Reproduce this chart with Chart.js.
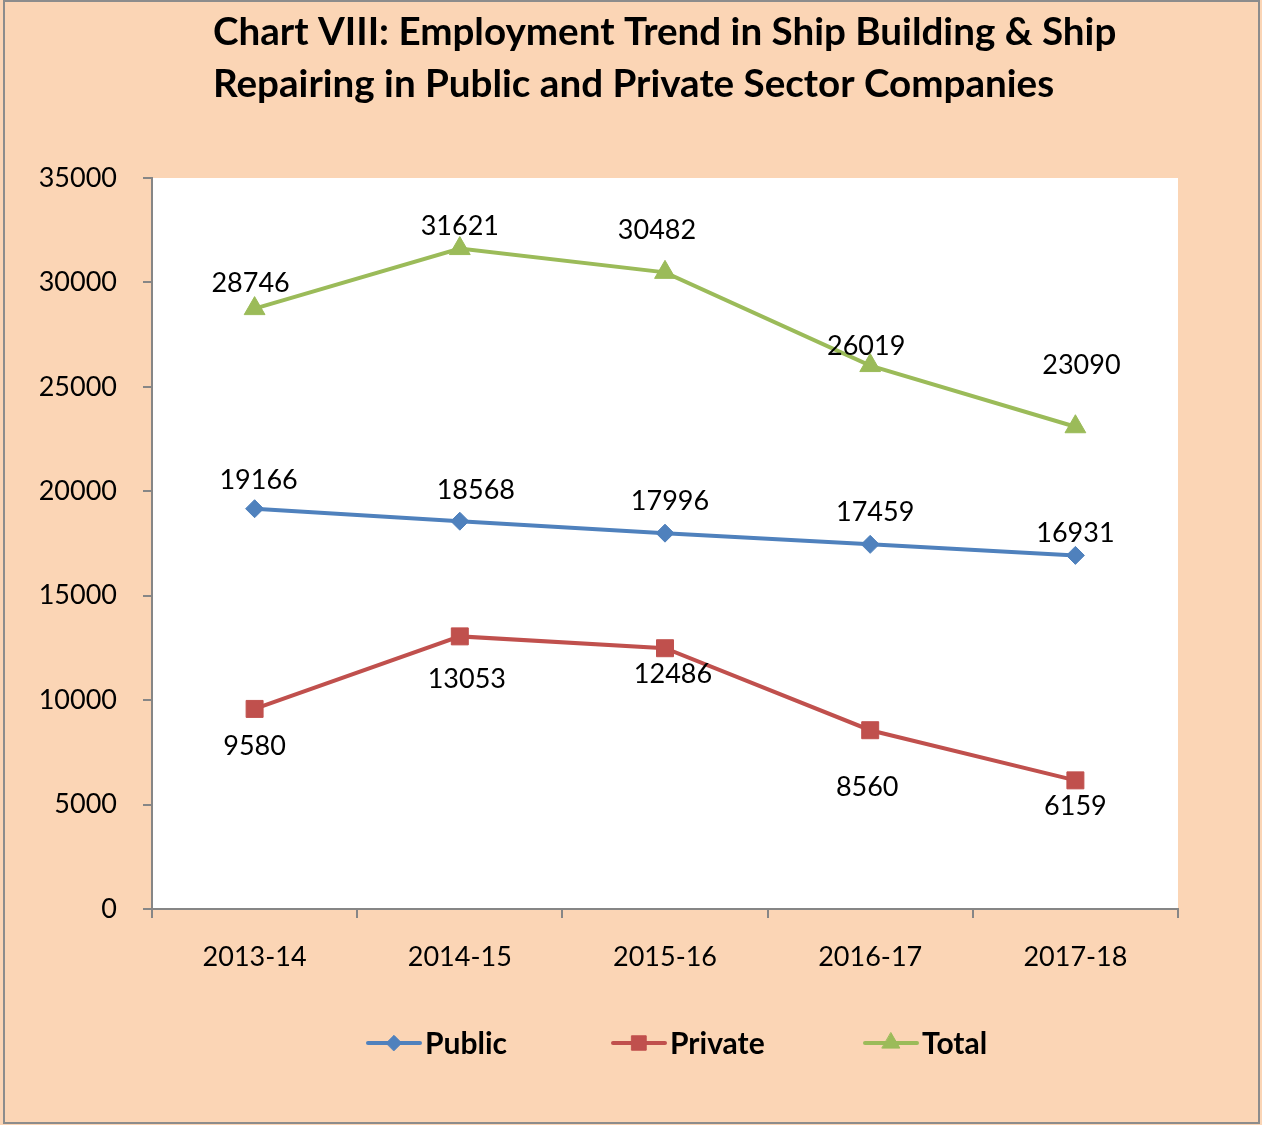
<!DOCTYPE html>
<html>
<head>
<meta charset="utf-8">
<script src="https://cdn.jsdelivr.net/npm/chart.js@4.4.0/dist/chart.umd.min.js"></script>
<style>
html, body { margin: 0; padding: 0; background: #fbd5b5; }
#wrap { width: 1262px; height: 1125px; }
</style>
</head>
<body>
<div id="wrap"><canvas id="chartEmp" width="1262" height="1125"></canvas></div>
<script>
const years = ['2013-14', '2014-15', '2015-16', '2016-17', '2017-18'];
const publicVals = [19166, 18568, 17996, 17459, 16931];
const privateVals = [9580, 13053, 12486, 8560, 6159];
const totalVals = [28746, 31621, 30482, 26019, 23090];
const yTicks = [0, 5000, 10000, 15000, 20000, 25000, 30000, 35000];
const titleLines = [
    'Chart VIII: Employment Trend in Ship Building & Ship',
    'Repairing in Public and Private Sector Companies'
];

const blue = '#4f81bd';
const red = '#c0504d';
const green = '#9bbb59';
const peach = '#fbd5b5';
const axisGray = '#868686';
const font = 'Lato';

// where excel dropped each value label, relative to its point
const labelShift = [
    [[4, -29], [16, -32], [5, -33], [5, -33], [0, -23]],
    [[0, 36], [7, 42], [8, 25], [-3, 56], [0, 25]],
    [[-4, -26], [0, -23], [-8, -43], [-4, -20], [6, -62]]
];

const backdrop = {
    id: 'backdrop',
    beforeDraw(chart) {
        const ctx = chart.ctx;
        const a = chart.chartArea;
        ctx.save();
        ctx.fillStyle = peach;
        ctx.fillRect(0, 0, chart.width, chart.height);
        ctx.strokeStyle = '#8c8c8c';
        ctx.lineWidth = 2;
        ctx.strokeRect(4, 1, 1255, 1122);
        ctx.fillStyle = '#ffffff';
        ctx.fillRect(a.left, a.top, a.right - a.left, a.bottom - a.top);
        ctx.restore();
    }
};

const titleLeft = {
    id: 'titleLeft',
    afterDraw(chart) {
        const ctx = chart.ctx;
        ctx.save();
        ctx.font = 'bold 40px ' + font;
        const w = ctx.measureText(titleLines[0]).width;
        const size = 40 * 904 / w;
        ctx.font = 'bold ' + size.toFixed(1) + 'px ' + font;
        ctx.fillStyle = '#000';
        ctx.textAlign = 'left';
        ctx.textBaseline = 'alphabetic';
        ctx.fillText(titleLines[0], 213, 45);
        ctx.fillText(titleLines[1], 213, 97);
        ctx.restore();
    }
};

const valueLabels = {
    id: 'valueLabels',
    afterDatasetsDraw(chart) {
        const ctx = chart.ctx;
        ctx.save();
        ctx.font = '27px ' + font;
        ctx.fillStyle = '#000';
        ctx.textAlign = 'center';
        ctx.textBaseline = 'middle';
        chart.data.datasets.forEach((ds, i) => {
            chart.getDatasetMeta(i).data.forEach((pt, j) => {
                const s = labelShift[i][j];
                ctx.fillText(String(ds.data[j]), pt.x + s[0], pt.y + s[1] + 1);
            });
        });
        ctx.restore();
    }
};

const lineLegend = {
    id: 'lineLegend',
    afterDraw(chart) {
        const ctx = chart.ctx;
        const starts = [368, 613, 865];
        const y = 1043;
        ctx.save();
        chart.data.datasets.forEach((ds, i) => {
            const x0 = starts[i];
            ctx.strokeStyle = ds.borderColor;
            ctx.lineWidth = 4;
            ctx.lineCap = 'round';
            ctx.beginPath();
            ctx.moveTo(x0, y);
            ctx.lineTo(x0 + 52, y);
            ctx.stroke();
            ctx.fillStyle = ds.borderColor;
            ctx.lineWidth = 1;
            Chart.helpers.drawPoint(ctx, {
                pointStyle: ds.pointStyle,
                radius: ds.pointRadius * 0.85,
                rotation: 0,
                borderWidth: 1
            }, x0 + 26, y);
            ctx.fillStyle = '#000';
            ctx.font = 'bold 30px ' + font;
            ctx.textAlign = 'left';
            ctx.textBaseline = 'middle';
            ctx.fillText(ds.label, x0 + 57, y + 1);
        });
        ctx.restore();
    }
};

new Chart(document.getElementById('chartEmp'), {
    type: 'line',
    data: {
        labels: years,
        datasets: [
            {
                label: 'Public',
                data: publicVals,
                borderColor: blue,
                backgroundColor: blue,
                pointStyle: 'rectRot',
                pointRadius: 9,
            },
            {
                label: 'Private',
                data: privateVals,
                borderColor: red,
                backgroundColor: red,
                pointStyle: 'rect',
                pointRadius: 12,
            },
            {
                label: 'Total',
                data: totalVals,
                borderColor: green,
                backgroundColor: green,
                pointStyle: 'triangle',
                pointRadius: 12,
            }
        ]
    },
    options: {
        responsive: false,
        animation: false,
        layout: { padding: { top: 178, right: 84, bottom: 152, left: 0 } },
        elements: {
            line: { borderWidth: 4, tension: 0 },
            point: { borderWidth: 1, hoverRadius: 12 }
        },
        plugins: {
            legend: { display: false },
            title: { display: false },
            tooltip: { enabled: false }
        },
        scales: {
            x: {
                offset: true,
                grid: { offset: true, drawOnChartArea: false, tickLength: 9, color: axisGray, lineWidth: 2 },
                border: { color: axisGray, width: 2 },
                ticks: { color: '#000', padding: 23, font: { family: font, size: 27 } },
                afterFit: s => { s.height = 64; }
            },
            y: {
                min: yTicks[0],
                max: yTicks[yTicks.length - 1],
                grid: { drawOnChartArea: false, tickLength: 9, color: axisGray, lineWidth: 2 },
                border: { color: axisGray, width: 2 },
                ticks: {
                    stepSize: yTicks[1] - yTicks[0],
                    color: '#000',
                    padding: 26,
                    font: { family: font, size: 27 },
                    callback: v => String(v)
                },
                afterFit: s => { s.width = 152; }
            }
        }
    },
    plugins: [backdrop, titleLeft, valueLabels, lineLegend]
});
</script>
</body>
</html>
